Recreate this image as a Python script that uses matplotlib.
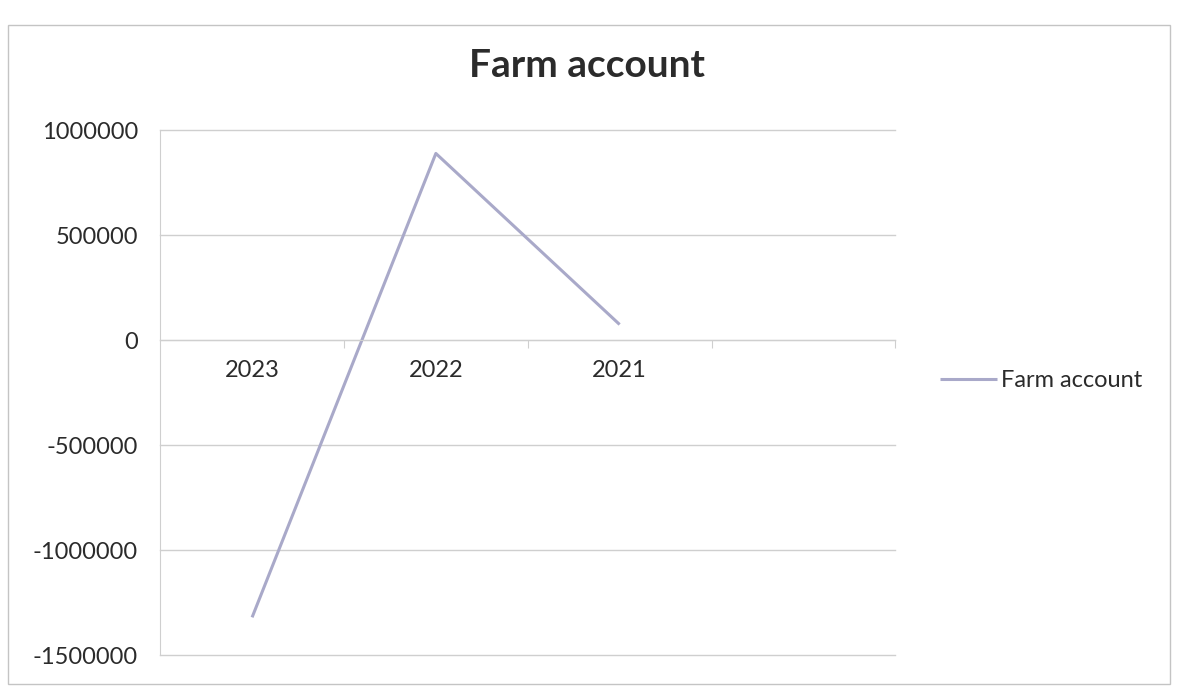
import matplotlib.pyplot as plt
from matplotlib.patches import Rectangle

# Farm account balance per year
years = ['2023', '2022', '2021', '']
balance = [-1320000, 890000, 75000]

yticks = [-1500000, -1000000, -500000, 0, 500000, 1000000]

plt.rcParams['font.family'] = ['Lato', 'DejaVu Sans']

fig = plt.figure(figsize=(11.78, 6.86), dpi=100)
ax = fig.add_axes([0.136, 0.045, 0.624, 0.765])

line_color = '#a9a9c9'
grid_color = '#cfcfcf'
text_color = '#2b2b2b'

x = list(range(len(balance)))
ax.plot(x, balance, color=line_color, lw=2.2, label='Farm account', solid_capstyle='butt')

ax.set_xlim(-0.5, len(years) - 0.5)
ax.set_ylim(-1500000, 1000000)
ax.set_yticks(yticks)
ax.set_yticklabels([str(v) for v in yticks], fontsize=17, color=text_color)
ax.tick_params(axis='y', length=0, pad=16)
ax.yaxis.grid(True, color=grid_color, lw=1)
for gl in ax.get_ygridlines():
    gl.set_clip_on(False)
ax.set_axisbelow(True)

# category labels between the boundary ticks, axis drawn through zero
ax.spines['bottom'].set_position(('data', 0))
ax.spines['bottom'].set_color(grid_color)
ax.spines['left'].set_color(grid_color)
ax.spines['top'].set_visible(False)
ax.spines['right'].set_visible(False)
ax.set_xticks([i + 0.5 for i in range(len(years))])
ax.set_xticklabels([])
ax.set_xticks(range(len(years)), minor=True)
ax.set_xticklabels(years, minor=True, fontsize=17, color=text_color)
ax.tick_params(axis='x', which='major', length=6, color=grid_color, direction='out')
ax.tick_params(axis='x', which='minor', length=0, pad=14)

fig.text(0.498, 0.905, 'Farm account', ha='center', va='center',
         fontsize=28, fontweight='bold', color=text_color)

fig.legend(loc='center left', bbox_to_anchor=(0.78, 0.445), frameon=False,
           fontsize=17, handlelength=2.4, handletextpad=0.2,
           labelcolor=text_color)

# chart border
fig.patches.append(Rectangle((0.007, 0.003), 0.986, 0.96, transform=fig.transFigure,
                             fill=False, edgecolor='#c4c4c4', lw=1))

fig.savefig('out.png', dpi=100, facecolor='white')
